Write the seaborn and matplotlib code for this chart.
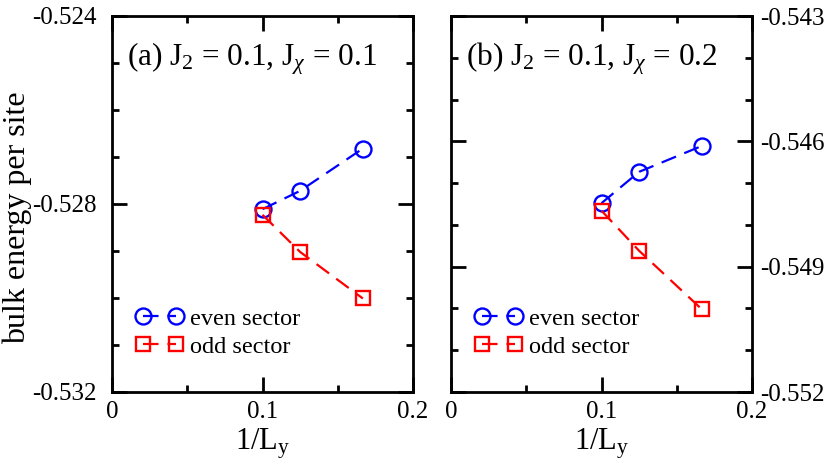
import matplotlib
matplotlib.use("Agg")
import matplotlib.pyplot as plt
import matplotlib.ticker as mticker
import pandas as pd
import seaborn as sns

# data
inv_ly = [1/10, 1/8, 1/6]
even_a = [-0.52811, -0.52772, -0.52682]
odd_a = [-0.52823, -0.52902, -0.53001]
even_b = [-0.54748, -0.54673, -0.54611]
odd_b = [-0.54766, -0.54862, -0.55002]
titles = [r"(a) J$_2$ = 0.1, J$_\chi$ = 0.1", r"(b) J$_2$ = 0.1, J$_\chi$ = 0.2"]

sns.set_theme(style="ticks")
plt.rcParams["font.family"] = ["Liberation Serif", "DejaVu Serif"]
plt.rcParams["mathtext.fontset"] = "custom"
plt.rcParams["mathtext.rm"] = "Liberation Serif"
plt.rcParams["mathtext.it"] = "Liberation Serif:italic"
plt.rcParams["axes.unicode_minus"] = False
plt.rcParams["axes.edgecolor"] = "black"
plt.rcParams["xtick.color"] = "black"
plt.rcParams["ytick.color"] = "black"
plt.rcParams["text.color"] = "black"
plt.rcParams["axes.labelcolor"] = "black"

fig = plt.figure(figsize=(8.3, 4.72), dpi=100)
ax1 = fig.add_axes([112/830, 80/472, 301/830, 376/472])
ax2 = fig.add_axes([451/830, 80/472, 301/830, 376/472])


def draw(ax, even, odd, title, ylim, major, right=False):
    df = pd.DataFrame({"x": inv_ly, "even": even, "odd": odd})
    sns.lineplot(data=df, x="x", y="even", ax=ax, color="blue", marker="o",
                 mfc="none", mec="blue", ms=11.5, mew=1.7, lw=1.6,
                 linestyle=(0, (7, 4)), label="even sector")
    sns.lineplot(data=df, x="x", y="odd", ax=ax, color="red", marker="s",
                 mfc="none", mec="red", ms=10, mew=1.7, lw=1.6,
                 linestyle=(0, (7, 4)), label="odd sector")
    ax.set_xlim(0, 0.2)
    ax.set_ylim(*ylim)
    ax.xaxis.set_major_locator(mticker.MultipleLocator(0.1))
    ax.xaxis.set_minor_locator(mticker.MultipleLocator(0.05))
    ax.xaxis.set_major_formatter(mticker.FormatStrFormatter("%g"))
    ax.yaxis.set_major_locator(mticker.MultipleLocator(major))
    ax.yaxis.set_minor_locator(mticker.MultipleLocator(0.001))
    ax.yaxis.set_major_formatter(mticker.FormatStrFormatter("%.3f"))
    ax.tick_params(which="both", direction="in", top=True, right=True,
                   left=True, bottom=True, width=2, labelsize=18)
    ax.tick_params(which="major", length=11)
    ax.tick_params(which="minor", length=5)
    ax.tick_params(axis="x", pad=6.5)
    if right:
        ax.tick_params(axis="y", labelleft=False, labelright=True, pad=5.5)
    else:
        ax.tick_params(axis="y", pad=11)
    for s in ax.spines.values():
        s.set_linewidth(2)
    ax.set_xlabel(r"1/L$_{\mathrm{y}}$", fontsize=22, labelpad=2.5)
    ax.set_ylabel("")
    ax.text(0.05, 0.935, title, transform=ax.transAxes, fontsize=22.5,
            va="top", ha="left")
    ax.legend(loc="lower left", bbox_to_anchor=(0.045, 0.065), frameon=False,
              numpoints=2, handlelength=1.96, handletextpad=0.3,
              fontsize=17.5, labelspacing=0.25, borderaxespad=0)


draw(ax1, even_a, odd_a, titles[0], (-0.532, -0.524), 0.004)
draw(ax2, even_b, odd_b, titles[1], (-0.552, -0.543), 0.003, right=True)
ax1.set_ylabel("bulk energy per site", fontsize=23)
ax1.yaxis.set_label_coords(-0.266, 0.463)

fig.savefig("out.png", dpi=100)
